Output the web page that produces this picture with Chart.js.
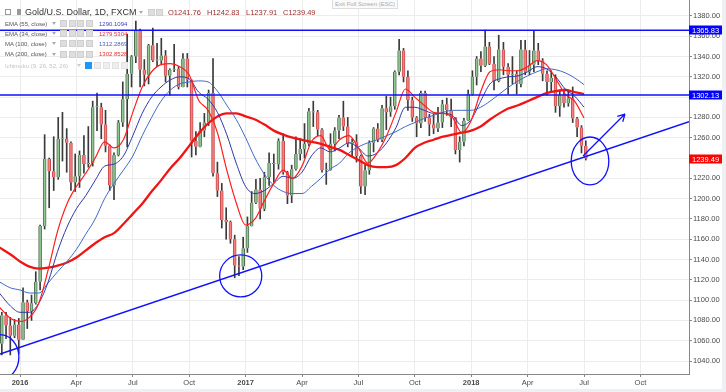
<!DOCTYPE html>
<html>
<head>
<meta charset="utf-8">
<script src="https://cdn.jsdelivr.net/npm/chart.js@4.4.1/dist/chart.umd.min.js"></script>
<style>
  html, body { margin: 0; padding: 0; background: #fff; }
  #wrap { position: relative; width: 726px; height: 392px; overflow: hidden;
          font-family: 'Liberation Sans', Arial, sans-serif; }
  canvas { position: absolute; left: 0; top: 0; }
  .t { position: absolute; white-space: nowrap; line-height: 1; }
  .leg { font-size: 6px; color: #555; }
  .val { font-size: 6px; }
  .ohlc { font-size: 7.5px; color: #9b2c2c; top: 9px; }
  .ico { position: absolute; width: 7px; height: 7px; background: #dedede; border: 1px solid #cfcfcf; box-sizing: border-box; }
  .tri { position: absolute; width: 0; height: 0; border-left: 2px solid transparent;
         border-right: 2px solid transparent; border-top: 3px solid #aaa; }
</style>
</head>
<body>
<div id="wrap">
  <canvas id="chart" width="726" height="392"></canvas>

  <div class="t" style="left:332px;top:-2px;width:64px;height:9px;border:1px solid #ddd;background:#fafafa;font-size:6px;color:#aaa;text-align:center;line-height:10px;">Exit Full Screen (ESC)</div>

  <!-- header -->
  <div class="ico" style="left:5px;top:9px;width:6px;height:6px;background:#fff;border-color:#999;"></div>
  <div class="ico" style="left:17px;top:9px;width:4px;height:6px;background:#999;border:0;"></div>
  <div class="t" style="left:25px;top:8px;font-size:9px;color:#333;">Gold/U.S. Dollar, 1D, FXCM</div>
  <div class="tri" style="left:139px;top:11px;"></div>
  <div class="ico" style="left:148px;top:9px;"></div>
  <div class="ico" style="left:156px;top:9px;"></div>
  <div class="t ohlc" style="left:168px;">O1241.76</div>
  <div class="t ohlc" style="left:207px;">H1242.83</div>
  <div class="t ohlc" style="left:246px;">L1237.91</div>
  <div class="t ohlc" style="left:283px;">C1239.49</div>

  <!-- study legend -->
  <div class="t leg" style="left:5px;top:20.5px;">EMA (55, close)</div>
  <div class="t leg" style="left:5px;top:30.5px;">EMA (34, close)</div>
  <div class="t leg" style="left:5px;top:40.5px;">MA (100, close)</div>
  <div class="t leg" style="left:5px;top:51px;">MA (200, close)</div>
  <div class="t leg" style="left:5px;top:62.5px;color:#c4c4c4;">Ichimoku (9, 26, 52, 26)</div>
  <div class="t val" style="left:99px;top:20.5px;color:#3f3fb5;">1290.1094</div>
  <div class="t val" style="left:99px;top:30.5px;color:#e53030;">1279.5304</div>
  <div class="t val" style="left:99px;top:40.5px;color:#4a62c4;">1312.2869</div>
  <div class="t val" style="left:99px;top:51px;color:#e53030;">1302.8528</div>
  <div id="icons"></div>
</div>

<script>
// ---- candles: one per week, first week starting 30 Nov 2015 ----
const firstWeek = Date.UTC(2015, 10, 30);

const open = [
  1057,1085,1075,1065,1076,
  1061,1098,1089,1097,1118,1173,1239,1227,1221,1259, 1259,1255,1216,1222,1243,1234,1235,1290,1290,1273,
  1252,1213,1243,1275,1298,1323,1340,1366,1327,1322, 1351,1336,1336,1341,1321,1327,1328,1310,1338,1317,
  1257,1251,1267,1275,1304,1225,1208,1179,1177,1160, 1134,1133,
  1151,1173,1196,1209,1190,1221,1235,1234,1257,1226, 1203,1229,1244,1249,1254,1286,1285,1268,1228,1228,
  1254,1267,1280,1271,1254,1256,1242,1212,1228,1255, 1269,1258,1289,1285,1291,1325,1346,1320,1297,1280,
  1274,1304,1280,1273,1269,1275,1293,1287,1280,1248, 1256,1277,
  1303,1320,1338,1331,1350,1333,1316,1347,1330,1322, 1323,1313,1347,1325,1332,1346,1336,1323,1315,1319,
  1291,1302,1294,1299,1279,1270,1252
];
const high = [
  1088,1088,1083,1081,1082,
  1112,1100,1105,1128,1174,1263,1240,1261,1280,1285, 1269,1256,1244,1247,1262,1271,1296,1304,1294,1287,
  1253,1245,1277,1315,1362,1341,1375,1367,1337,1352, 1368,1353,1358,1346,1328,1352,1330,1343,1343,1317,
  1266,1275,1284,1307,1338,1236,1215,1191,1178,1164, 1143,1162,
  1182,1207,1219,1220,1226,1245,1244,1259,1264,1227, 1233,1261,1259,1274,1289,1296,1287,1269,1235,1264,
  1270,1282,1296,1280,1259,1263,1243,1233,1257,1270, 1274,1292,1301,1300,1326,1357,1348,1326,1300,1281,
  1306,1306,1283,1283,1290,1297,1299,1298,1280,1261, 1279,1307,
  1326,1340,1345,1366,1354,1340,1361,1354,1333,1340, 1326,1356,1356,1346,1365,1353,1338,1326,1326,1322,
  1307,1308,1306,1310,1280,1272,1257
];
const low = [
  1046,1062,1046,1063,1047,
  1061,1072,1080,1096,1110,1170,1191,1208,1219,1237, 1226,1208,1207,1211,1225,1231,1232,1267,1259,1246,
  1208,1199,1242,1271,1251,1310,1334,1310,1311,1313, 1335,1330,1333,1315,1302,1325,1308,1310,1310,1241,
  1243,1251,1261,1272,1222,1202,1171,1160,1156,1122, 1124,1130,
  1147,1173,1195,1180,1188,1213,1216,1229,1224,1195, 1196,1228,1238,1240,1252,1271,1262,1226,1214,1228,
  1247,1259,1267,1251,1241,1236,1205,1204,1224,1246, 1256,1256,1268,1281,1288,1322,1315,1287,1276,1261,
  1270,1276,1262,1264,1266,1270,1282,1271,1244,1236, 1252,1277,
  1302,1312,1325,1330,1332,1307,1315,1322,1303,1313, 1303,1310,1322,1322,1325,1332,1316,1302,1305,1285,
  1281,1290,1291,1275,1261,1245,1238
];
const close = [
  1085,1075,1065,1076,1061,
  1098,1089,1097,1118,1173,1239,1227,1221,1259,1259, 1255,1216,1222,1243,1234,1235,1290,1290,1273,1252,
  1213,1243,1275,1298,1323,1340,1366,1327,1322,1351, 1336,1336,1341,1321,1327,1328,1310,1338,1317,1257,
  1251,1267,1275,1304,1225,1208,1179,1177,1160,1134, 1133,1151,
  1173,1196,1209,1190,1221,1235,1234,1257,1226,1203, 1229,1244,1249,1254,1286,1285,1268,1228,1228,1254,
  1267,1280,1271,1254,1256,1242,1212,1228,1255,1269, 1258,1289,1285,1291,1325,1346,1320,1297,1280,1274,
  1304,1280,1273,1269,1275,1293,1287,1280,1248,1256, 1277,1303,
  1320,1338,1331,1350,1333,1316,1347,1330,1322,1323, 1313,1347,1325,1332,1346,1336,1323,1315,1319,1291,
  1302,1294,1299,1279,1270,1252,1239.49
];

// ---- moving averages, read every half month (x = months since Jan 2016) ----
const maMonths = [-1.1].concat(Array.from({ length: 62 }, (_, i) => -0.5 + i * 0.5));
const ema34 = [
  1093,1082,1079,1083,1097,1130,1168,1195,1212,1225, 1240,1256,1250,1258,1285,1310,1325,1332,1333,1330,
  1322,1297,1287,1265,1228,1196,1174,1180,1198,1215, 1228,1220,1232,1256,1262,1248,1258,1262,1250,1235,
  1245,1262,1285,1308,1300,1292,1285,1284,1280,1265, 1277,1305,1325,1327,1326,1326,1330,1336,1332,1318,
  1303,1296,1279.5
];
const ema55 = [
  1107,1094,1088,1088,1097,1118,1148,1172,1190,1203, 1218,1232,1234,1242,1262,1284,1300,1310,1317,1320,
  1318,1305,1298,1285,1263,1235,1212,1205,1208,1215, 1222,1220,1226,1242,1250,1246,1250,1255,1250,1242,
  1245,1255,1270,1290,1290,1287,1284,1284,1282,1272, 1278,1296,1313,1318,1320,1321,1325,1330,1328,1320,
  1308,1301,1290.1
];
const ma100 = [
  1118,1112,1110,1107,1107,1117,1128,1138,1150,1165, 1180,1200,1215,1228,1242,1262,1280,1296,1307,1313,
  1315,1316,1315,1306,1292,1278,1260,1240,1224,1213, 1207,1205,1205,1212,1220,1229,1235,1245,1251,1255,
  1258,1262,1266,1271,1275,1279,1282,1285,1287,1287, 1287,1290,1296,1303,1310,1316,1321,1325,1328,1327,
  1324,1319,1312.3
];
const ma200 = [
  1152,1145,1138,1133,1131,1132,1134,1137,1142,1149, 1156,1162,1166,1175,1185,1195,1207,1218,1230,1240,
  1252,1264,1274,1281,1284,1284,1281,1278,1273,1267, 1263,1260,1258,1256,1254,1251,1248,1243,1238,1233,
  1231,1231,1233,1240,1250,1255,1258,1261,1263,1265, 1267,1271,1278,1284,1289,1292,1296,1300,1304,1306,
  1307,1305,1302.9
];

// ---- axes ----
const monthTicks = [0, 3, 6, 9, 12, 15, 18, 21, 24, 27, 30, 33];
const monthLabels = ['2016', 'Apr', 'Jul', 'Oct', '2017', 'Apr', 'Jul', 'Oct', '2018', 'Apr', 'Jul', 'Oct'];
const priceTicks = [1040, 1060, 1080, 1100, 1120, 1140, 1160, 1180, 1200, 1220, 1240,
                    1260, 1280, 1300, 1320, 1340, 1360, 1380];
const xMin = -1.064, xMax = 35.585;
const yMin = 1027.2, yMax = 1395.7;

// ---- drawings ----
const hLevels = [1365.83, 1302.13];
const trendFrom = [xMin, 1046.9];
const trendTo = [xMax, 1275.8];
const rings = [ // [month, price, radius in months, radius in price]
  [-1.06, 1043.9, 1.0, 22],
  [11.74, 1123.8, 1.12, 20.7],
  [30.32, 1237.1, 1.0, 23.6],
];
const arrowFrom = [29.95, 1242];
const arrowTo = [32.18, 1283.3];
const priceTags = [[1365.83, '#0000ff'], [1302.13, '#0000ff'], [1239.49, '#ff0000']];

// week centre (Wednesday) -> months since Jan 2016
function monthPos(t) {
  const d = new Date(t);
  const y = d.getUTCFullYear(), mo = d.getUTCMonth();
  const dim = new Date(Date.UTC(y, mo + 1, 0)).getUTCDate();
  return (y - 2016) * 12 + mo + (d.getUTCDate() - 1) / dim;
}
const candleX = close.map((_, i) => monthPos(firstWeek + (i * 7 + 2) * 864e5));
const isUp = close.map((c, i) => c >= open[i]);

const BLUE = '#1010ff';
const FONT = "'Liberation Sans', Arial, sans-serif";

const maLine = (vals, color, width, order) => ({
  type: 'line',
  data: maMonths.map((x, i) => ({ x, y: vals[i] })),
  borderColor: color, borderWidth: width, pointRadius: 0,
  cubicInterpolationMode: 'monotone', order,
});
const straight = (a, b, width) => ({
  type: 'line',
  data: [{ x: a[0], y: a[1] }, { x: b[0], y: b[1] }],
  borderColor: BLUE, borderWidth: width, pointRadius: 0, order: 1,
});

const drawings = {
  id: 'drawings',
  beforeDraw(chart) {
    const c = chart.ctx;
    c.save();
    c.fillStyle = '#eef0f3';
    c.fillRect(722, 0, 4, 392);
    c.fillRect(0, 389, 726, 3);
    c.restore();
  },
  afterDatasetsDraw(chart) {
    const { ctx, chartArea: a, scales: { x, y } } = chart;
    ctx.save();
    ctx.beginPath(); ctx.rect(a.left, a.top, a.width, a.height); ctx.clip();
    ctx.strokeStyle = BLUE; ctx.lineWidth = 1.3;
    rings.forEach(([m, v, rm, rv]) => {
      const cx = x.getPixelForValue(m), cy = y.getPixelForValue(v);
      const rx = x.getPixelForValue(m + rm) - cx, ry = cy - y.getPixelForValue(v + rv);
      ctx.beginPath(); ctx.ellipse(cx, cy, rx, ry, 0, 0, Math.PI * 2); ctx.stroke();
    });
    const x1 = x.getPixelForValue(arrowFrom[0]), y1 = y.getPixelForValue(arrowFrom[1]);
    const x2 = x.getPixelForValue(arrowTo[0]), y2 = y.getPixelForValue(arrowTo[1]);
    const ang = Math.atan2(y2 - y1, x2 - x1);
    ctx.beginPath(); ctx.moveTo(x1, y1); ctx.lineTo(x2, y2);
    [-0.5, 0.5].forEach(d => {
      ctx.moveTo(x2, y2);
      ctx.lineTo(x2 - 8 * Math.cos(ang + d), y2 - 8 * Math.sin(ang + d));
    });
    ctx.stroke();
    ctx.restore();
  },
  afterDraw(chart) {
    const { ctx, chartArea: a, scales: { y } } = chart;
    ctx.save();
    ctx.font = '7.5px ' + FONT;
    ctx.textBaseline = 'middle';
    priceTags.forEach(([v, color]) => {
      const py = Math.round(y.getPixelForValue(v));
      ctx.fillStyle = color;
      ctx.fillRect(a.right, py - 4.5, 33, 9);
      ctx.fillStyle = '#fff';
      ctx.fillText(v.toFixed(2), a.right + 3, py + 0.5);
    });
    ctx.restore();
  },
};

new Chart(document.getElementById('chart'), {
  type: 'bar',
  data: {
    datasets: [
      straight([xMin, hLevels[0]], [xMax, hLevels[0]], 1.4),
      straight([xMin, hLevels[1]], [xMax, hLevels[1]], 1.4),
      straight(trendFrom, trendTo, 1.4),
      maLine(ema34, '#ff1e1e', 1.2, 2),
      maLine(ema55, '#2e36a8', 1, 3),
      maLine(ma100, '#4068c6', 1, 4),
      maLine(ma200, '#f01414', 2.3, 5),
      {
        label: 'body',
        data: candleX.map((x, i) => ({ x, y: [open[i], close[i]] })),
        backgroundColor: isUp.map(u => u ? '#93c893' : '#f58080'),
        borderColor: isUp.map(u => u ? '#4f6f55' : '#c74a4a'),
        borderWidth: { left: 1, right: 1, top: 0, bottom: 0 },
        barThickness: 3, minBarLength: 1, grouped: false, order: 9,
      },
      {
        label: 'wick',
        data: candleX.map((x, i) => ({ x, y: [low[i], high[i]] })),
        backgroundColor: '#3a3a3a',
        barThickness: 1, grouped: false, order: 10,
      },
    ],
  },
  options: {
    responsive: false,
    animation: false,
    devicePixelRatio: 1,
    layout: { padding: 0 },
    plugins: { legend: { display: false }, tooltip: { enabled: false } },
    scales: {
      x: {
        type: 'linear', offset: false, min: xMin, max: xMax,
        afterBuildTicks: s => { s.ticks = monthTicks.map(v => ({ value: v })); },
        afterFit: s => { s.height = 18; s.paddingLeft = 0; s.paddingRight = 0; },
        grid: { color: '#ececec', offset: false, tickLength: 3, tickColor: '#888' },
        border: { color: '#888' },
        ticks: {
          padding: 1, maxRotation: 0, autoSkip: false, color: '#4a4a4a',
          callback: v => monthLabels[monthTicks.indexOf(v)],
          font: c => ({ family: FONT, size: 7.5,
                        weight: c.tick && c.tick.value % 12 === 0 ? 'bold' : 'normal' }),
        },
      },
      y: {
        position: 'right', min: yMin, max: yMax,
        afterBuildTicks: s => { s.ticks = priceTicks.map(v => ({ value: v })); },
        afterFit: s => { s.width = 37; s.paddingTop = 0; s.paddingBottom = 0; },
        grid: { color: '#ececec', tickLength: 3, tickColor: '#888' },
        border: { color: '#888' },
        ticks: {
          padding: 1, color: '#4a4a4a', font: { family: FONT, size: 7.5 },
          callback: v => v.toFixed(2),
        },
      },
    },
  },
  plugins: [drawings],
});

// study legend buttons
const icons = document.getElementById('icons');
[20.5, 30.5, 40.5, 51].forEach(top => {
  icons.insertAdjacentHTML('beforeend', `<div class="tri" style="left:52px;top:${top + 1.5}px"></div>`);
  [60, 68.5, 77, 85.5].forEach(left => {
    icons.insertAdjacentHTML('beforeend', `<div class="ico" style="left:${left}px;top:${top - 0.5}px"></div>`);
  });
});
icons.insertAdjacentHTML('beforeend', '<div class="tri" style="left:77px;top:64px;border-top-color:#ccc"></div>');
[85, 94, 103, 112, 121].forEach((left, i) => {
  const st = i === 0 ? 'background:#2196f3;border-color:#2196f3' : 'background:#eee;border-color:#e2e2e2';
  icons.insertAdjacentHTML('beforeend', `<div class="ico" style="left:${left}px;top:62px;${st}"></div>`);
});
</script>
</body>
</html>
